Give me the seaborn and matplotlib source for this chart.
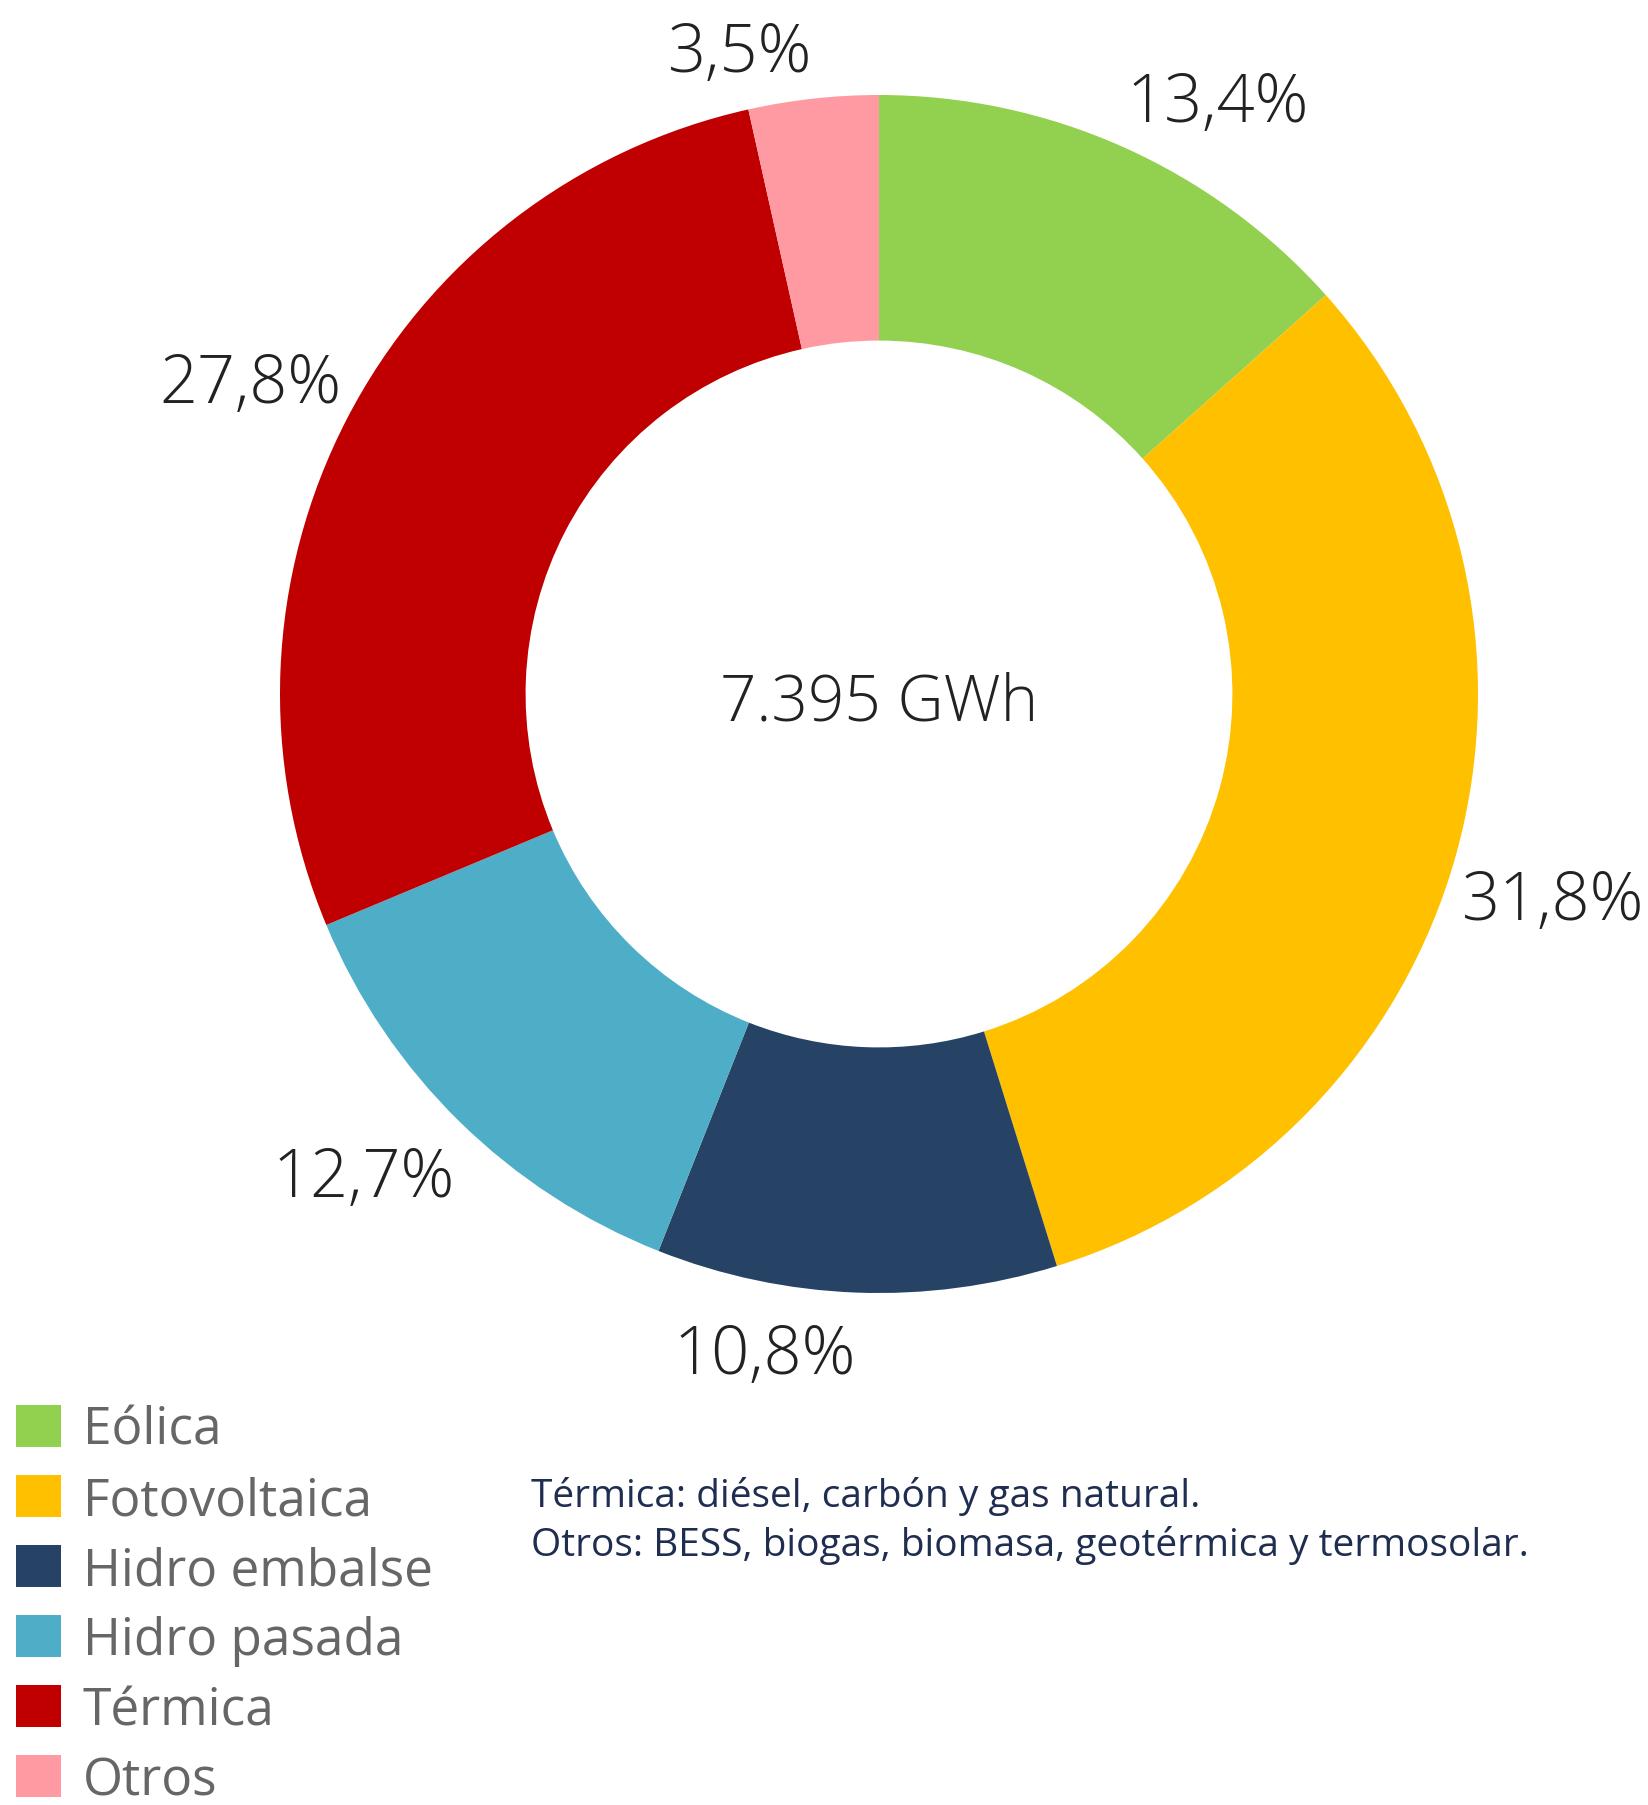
import numpy as np
import matplotlib
matplotlib.use("Agg")
import matplotlib.pyplot as plt
import seaborn as sns
from matplotlib.patches import Patch

# datos
categorias = ["Eólica", "Fotovoltaica", "Hidro embalse", "Hidro pasada", "Térmica", "Otros"]
porcentajes = [13.4, 31.8, 10.8, 12.7, 27.8, 3.5]
colores = ["#92D050", "#FFC000", "#264366", "#4EADC7", "#C00000", "#FF9AA2"]
total_txt = "7.395 GWh"
nota = ["Térmica: diésel, carbón y gas natural.",
        "Otros: BESS, biogas, biomasa, geotérmica y termosolar."]

sns.set_theme(style="white")
plt.rcParams["font.family"] = ["Open Sans", "DejaVu Sans"]

W, H = 1649, 1806
fig = plt.figure(figsize=(W / 100, H / 100), dpi=100)
ax = fig.add_axes([0, 0, 1, 1])

# escala: radio exterior = 599 px, centro en (879, 695) px
R = 599.0
cx, cy = 879.0, 695.0

wedges, _ = ax.pie(porcentajes, colors=colores, startangle=90, counterclock=False,
                   radius=1.0, wedgeprops=dict(width=0.41, linewidth=0))
ax.set_xlim(-cx / R, (W - cx) / R)
ax.set_ylim(-(H - cy) / R, cy / R)
ax.set_aspect("auto")
ax.axis("off")

# etiquetas de porcentaje (esquina de la caja junto al anillo)
for w, p in zip(wedges, porcentajes):
    ang = np.deg2rad((w.theta1 + w.theta2) / 2)
    x, y = 1.01 * np.cos(ang), 1.035 * np.sin(ang) - 0.015
    ha = "left" if np.cos(ang) >= 0 else "right"
    va = "bottom" if np.sin(ang) > 0 else "top"
    ax.text(x, y, f"{p:.1f}%".replace(".", ","), ha=ha, va=va,
            fontsize=48, color="#222222", fontweight="light")

ax.text(0, -0.015, total_txt, ha="center", va="center", fontsize=46,
        color="#222222", fontweight="light")

# leyenda
handles = [Patch(facecolor=c, edgecolor="none") for c in colores]
leg = fig.legend(handles, categorias, loc="upper left",
                 bbox_to_anchor=(16 / W, 1 - 1406 / H), frameon=False,
                 fontsize=37, handlelength=0.88, handleheight=0.88,
                 handletextpad=0.42, labelspacing=0.37, borderpad=0,
                 borderaxespad=0)
for t in leg.get_texts():
    t.set_color("#666666")

fig.text(531 / W, 1 - 1521 / H, "\n".join(nota), ha="left", va="center",
         fontsize=28, color="#1F2D50", linespacing=1.34)

fig.savefig("out.png", dpi=100, facecolor="white")
